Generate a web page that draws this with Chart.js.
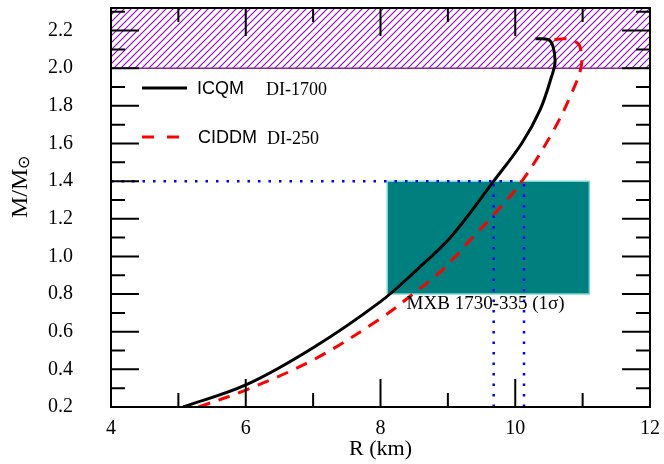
<!DOCTYPE html>
<html>
<head>
<meta charset="utf-8">
<script src="https://cdn.jsdelivr.net/npm/chart.js@4.4.1/dist/chart.umd.min.js"></script>
<style>
  html, body { margin: 0; padding: 0; background: #fff; }
  #wrap { width: 664px; height: 464px; }
</style>
</head>
<body>
<div id="wrap"><canvas id="mrChart" width="664" height="464"></canvas></div>
<script>
// ICQM (DI-1700) mass-radius curve
const icqmR = [5.07, 6.0, 7.0, 8.0, 8.54, 9.05, 9.68, 10.10, 10.37, 10.54, 10.59, 10.56, 10.49, 10.30];
const icqmM = [0.20, 0.317, 0.515, 0.76, 0.929, 1.106, 1.40, 1.603, 1.78, 1.957, 2.03, 2.116, 2.152, 2.157];

// CIDDM (DI-250) mass-radius curve
const ciddmR = [5.30, 6.0, 7.0, 8.0, 8.48, 8.92, 9.38, 9.68, 10.10, 10.56, 10.84, 10.98, 10.96, 10.88, 10.74, 10.57];
const ciddmM = [0.20, 0.29, 0.45, 0.67, 0.80, 0.929, 1.106, 1.221, 1.40, 1.664, 1.87, 2.01, 2.116, 2.143, 2.157, 2.152];

// MXB 1730-335 (1 sigma) box
const boxR = [8.1, 11.1];
const boxM = [0.8, 1.4];

// 1.4 Msun guide lines
const guideM = 1.4;
const guideR = [9.68, 10.13];

// observed 2 Msun band
const bandM = [2.0, 2.32];

// axes
const xRange = [4, 12];
const yRange = [0.2, 2.32];
const xTicks = [4, 6, 8, 10, 12];
const yTicks = [0.2, 0.4, 0.6, 0.8, 1.0, 1.2, 1.4, 1.6, 1.8, 2.0, 2.2];

const SERIF = '"Liberation Serif", "Times New Roman", serif';
const SANS = '"Liberation Sans", Arial, sans-serif';

function pts(xs, ys) {
    return xs.map((x, i) => ({ x: x, y: ys[i] }));
}

// hatch pattern for the 2 Msun band
function makeHatch() {
    const c = document.createElement('canvas');
    c.width = 7; c.height = 7;
    const g = c.getContext('2d');
    g.fillStyle = '#ffffff';
    g.fillRect(0, 0, 7, 7);
    g.strokeStyle = '#9400c8';
    g.lineWidth = 1.1;
    g.beginPath();
    g.moveTo(-1, 8); g.lineTo(8, -1);
    g.moveTo(-4, 4); g.lineTo(4, -4);
    g.moveTo(3, 11); g.lineTo(11, 3);
    g.stroke();
    return g.createPattern(c, 'repeat');
}

function noPad(s) {
    s.paddingTop = 0; s.paddingBottom = 0;
    s.paddingLeft = 0; s.paddingRight = 0;
}

// frame, inward ticks, legend, labels
const decorPlugin = {
    id: 'decor',
    afterDatasetsDraw(chart) {
        const ctx = chart.ctx;
        const a = chart.chartArea;
        const xs = chart.scales.x, ys = chart.scales.y;
        ctx.save();
        ctx.strokeStyle = '#000';
        ctx.lineWidth = 2;
        ctx.strokeRect(a.left, a.top, a.right - a.left, a.bottom - a.top);

        ctx.beginPath();
        for (let v = xRange[0]; v <= xRange[1]; v += 1) {
            const px = xs.getPixelForValue(v);
            const len = (v % 2 === 0) ? 28 : 14;
            ctx.moveTo(px, a.bottom); ctx.lineTo(px, a.bottom - len);
            ctx.moveTo(px, a.top); ctx.lineTo(px, a.top + len);
        }
        for (let k = 2; k <= 23; k++) {
            const py = ys.getPixelForValue(k / 10);
            const len = (k % 2 === 0) ? 28 : 14;
            ctx.moveTo(a.left, py); ctx.lineTo(a.left + len, py);
            ctx.moveTo(a.right, py); ctx.lineTo(a.right - len, py);
        }
        ctx.stroke();

        // legend
        const lx = a.left + 31;
        ctx.lineWidth = 3;
        ctx.beginPath();
        ctx.moveTo(lx, 88); ctx.lineTo(lx + 45, 88);
        ctx.stroke();
        ctx.strokeStyle = '#ff0000';
        ctx.setLineDash([12, 13]);
        ctx.beginPath();
        ctx.moveTo(lx, 137); ctx.lineTo(lx + 39, 137);
        ctx.stroke();
        ctx.setLineDash([]);

        ctx.fillStyle = '#000';
        ctx.textBaseline = 'middle';
        ctx.textAlign = 'left';
        ctx.font = '18px ' + SANS;
        ctx.fillText('ICQM', a.left + 86, 89);
        ctx.fillText('CIDDM', a.left + 87, 138);
        ctx.font = '18px ' + SERIF;
        ctx.fillText('DI-1700', a.left + 155, 90);
        ctx.fillText('DI-250', a.left + 156, 139);

        // box label
        ctx.font = '19px ' + SERIF;
        ctx.textAlign = 'center';
        ctx.fillText('MXB 1730-335 (1\u03c3)', xs.getPixelForValue(9.56), ys.getPixelForValue(0.745));

        // y title
        ctx.translate(27, 218);
        ctx.rotate(-Math.PI / 2);
        ctx.textAlign = 'left';
        ctx.textBaseline = 'alphabetic';
        ctx.font = '24px ' + SERIF;
        ctx.fillText('M/M', 0, 0);
        const w = ctx.measureText('M/M').width;
        ctx.font = '16px ' + SERIF;
        ctx.textBaseline = 'middle';
        ctx.fillText('\u2299', w, -2);
        ctx.restore();
    }
};

const ctx = document.getElementById('mrChart').getContext('2d');
new Chart(ctx, {
    type: 'scatter',
    data: {
        datasets: [
            {
                label: 'ICQM',
                data: pts(icqmR, icqmM),
                showLine: true,
                tension: 0.35,
                borderColor: '#000',
                borderWidth: 3,
                pointRadius: 0,
                order: 1
            },
            {
                label: 'CIDDM',
                data: pts(ciddmR, ciddmM),
                showLine: true,
                tension: 0.35,
                borderColor: '#ff0000',
                borderWidth: 3,
                borderDash: [12, 9],
                pointRadius: 0,
                order: 2
            },
            {
                label: 'guide M',
                data: [{ x: xRange[0], y: guideM }, { x: guideR[1], y: guideM }],
                showLine: true,
                borderColor: '#0000ff',
                borderWidth: 2.5,
                borderDash: [2.5, 8],
                pointRadius: 0,
                order: 4
            },
            {
                label: 'guide R1',
                data: [{ x: guideR[0], y: yRange[0] }, { x: guideR[0], y: guideM }],
                showLine: true,
                borderColor: '#0000ff',
                borderWidth: 2.5,
                borderDash: [2.5, 8],
                pointRadius: 0,
                order: 4
            },
            {
                label: 'guide R2',
                data: [{ x: guideR[1], y: yRange[0] }, { x: guideR[1], y: guideM }],
                showLine: true,
                borderColor: '#0000ff',
                borderWidth: 2.5,
                borderDash: [2.5, 8],
                pointRadius: 0,
                order: 4
            },
            {
                label: 'MXB box',
                data: [
                    { x: boxR[0], y: boxM[0] }, { x: boxR[1], y: boxM[0] },
                    { x: boxR[1], y: boxM[1] }, { x: boxR[0], y: boxM[1] },
                    { x: boxR[0], y: boxM[0] }
                ],
                showLine: true,
                fill: 'shape',
                backgroundColor: '#007f7f',
                borderColor: '#7fd6d6',
                borderWidth: 1.5,
                pointRadius: 0,
                order: 5
            },
            {
                label: 'band',
                data: [
                    { x: xRange[0], y: bandM[0] }, { x: xRange[1], y: bandM[0] },
                    { x: xRange[1], y: bandM[1] }, { x: xRange[0], y: bandM[1] },
                    { x: xRange[0], y: bandM[0] }
                ],
                showLine: true,
                fill: 'shape',
                backgroundColor: makeHatch(),
                borderColor: '#8a2a8a',
                borderWidth: 1.5,
                pointRadius: 0,
                order: 6
            }
        ]
    },
    options: {
        responsive: false,
        animation: false,
        events: [],
        layout: { padding: { top: 8, right: 14, left: 0, bottom: 0 } },
        plugins: {
            legend: { display: false },
            tooltip: { enabled: false }
        },
        scales: {
            x: {
                type: 'linear',
                min: xRange[0],
                max: xRange[1],
                grid: { display: false, drawTicks: false },
                border: { display: false },
                afterBuildTicks: s => { s.ticks = xTicks.map(v => ({ value: v })); },
                afterFit: s => { s.height = 57; noPad(s); },
                ticks: {
                    color: '#000',
                    padding: 10,
                    maxRotation: 0,
                    font: { family: SERIF, size: 20 }
                },
                title: {
                    display: true,
                    text: 'R (km)',
                    color: '#000',
                    padding: { top: 0, bottom: 2 },
                    font: { family: SERIF, size: 22 }
                }
            },
            y: {
                type: 'linear',
                min: yRange[0],
                max: yRange[1],
                grid: { display: false, drawTicks: false },
                border: { display: false },
                afterBuildTicks: s => { s.ticks = yTicks.map(v => ({ value: v })); },
                afterFit: s => { s.width = 111; noPad(s); },
                ticks: {
                    color: '#000',
                    padding: 38,
                    font: { family: SERIF, size: 20 },
                    callback: v => Number(v).toFixed(1)
                }
            }
        }
    },
    plugins: [decorPlugin]
});
</script>
</body>
</html>
